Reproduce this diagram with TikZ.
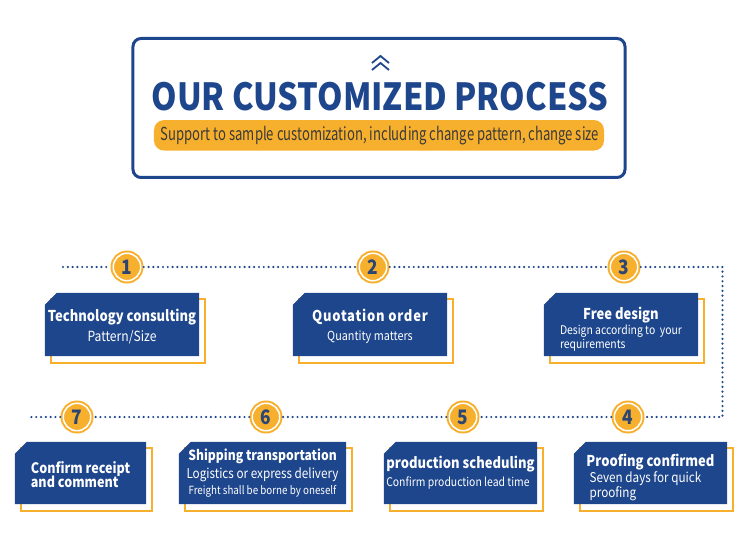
\documentclass[tikz,border=0pt]{standalone}
\usepackage{fontspec}
\setmainfont[FakeStretch=0.87]{Noto Sans CJK SC}
\newfontfamily\narrowfont[FakeStretch=0.73]{Noto Sans CJK SC}
\usetikzlibrary{positioning,backgrounds}

\definecolor{procblue}{HTML}{1E468C}
\definecolor{procorange}{HTML}{F7B02E}
\definecolor{numtext}{HTML}{2C4573}
\definecolor{pilltext}{HTML}{3A3A3A}

\tikzset{
  stepnum/.style={circle, fill=procorange, draw=procorange, double=white, double distance=1.5bp,
    line width=2bp, minimum size=27.5bp, inner sep=0pt, outer sep=3bp, text=numtext,
    font=\fontsize{20}{20}\selectfont\bfseries},
  card/.style={rectangle, inner sep=0pt, text=white, align=center},
  cardframe/.style={draw=procorange, line width=2bp},
  dotline/.style={procblue, line width=2.4bp, line cap=round, dash pattern=on 0bp off 4.8bp},
}

\begin{document}
\begin{tikzpicture}[x=1bp, y=-1bp]
\useasboundingbox (0,0) rectangle (750,549);

% header
\node[draw=procblue, line width=3bp, rounded corners=8bp, minimum width=492bp, minimum height=139bp, inner sep=0pt] (header) at (379,108) {};
\draw[procblue, line width=1.8bp] (372,63) -- (380.5,56) -- (389,63);
\draw[procblue, line width=1.8bp] (372,70) -- (380.5,63) -- (389,70);
\node[text=procblue, font=\fontsize{37.5}{37.5}\selectfont\bfseries, inner sep=0pt] (title) at (380,97) {OUR CUSTOMIZED PROCESS};
\node[fill=procorange, rounded corners=10bp, minimum width=450bp, minimum height=30.5bp, inner sep=0pt] (pill) at (379,135.3) {};
\node[text=pilltext, font=\narrowfont\fontsize{18}{18}\selectfont, inner sep=0pt, anchor=base] (slogan) at (380,141) {Support to sample customization, including change pattern, change size};

% step numbers
\node[stepnum] (c1) at (127,267) {1};
\node[stepnum] (c2) at (373,267) {2};
\node[stepnum] (c3) at (624,267) {3};
\node[stepnum] (c4) at (628,417) {4};
\node[stepnum] (c5) at (463,417) {5};
\node[stepnum] (c6) at (266,417) {6};
\node[stepnum] (c7) at (77,417) {7};

\coordinate (s0) at (63,267);
\coordinate (t1) at (722.5,267);
\coordinate (t2) at (722.5,417);
\coordinate (s8) at (29,417);

\draw[dotline] (s0) -- (c1);
\draw[dotline] (c1) -- (c2);
\draw[dotline] (c2) -- (c3);
\draw[dotline] (c3) -- (t1) -- (t2) -- (c4);
\draw[dotline] (c4) -- (c5);
\draw[dotline] (c5) -- (c6);
\draw[dotline] (c6) -- (c7);
\draw[dotline] (c7) -- (s8);

% step cards (the rules push the text a little below the middle)
\node[card, minimum width=154bp, minimum height=63bp] (b1) at (122,324.5)
  {\fontsize{15}{15}\selectfont\bfseries\rule{0pt}{16.5bp}Technology consulting\\[5bp]
   \fontsize{14}{14}\selectfont Pattern/Size};
\node[card, minimum width=154bp, minimum height=63bp] (b2) at (370,324.5)
  {\addfontfeature{LetterSpace=5}\fontsize{15}{15}\selectfont\bfseries\rule{0pt}{16.5bp}Quotation order\\[5bp]
   \fontsize{12.5}{12.5}\selectfont Quantity matters};
\node[card, minimum width=154bp, minimum height=63bp] (b3) at (621,324.5)
  {\fontsize{15}{15}\selectfont\bfseries\rule{0pt}{23.5bp}Free design\\[1bp]
   \fontsize{12}{14}\selectfont\begin{tabular}{@{}l@{}}Design according to\ \ your\\requirements\end{tabular}};
\node[card, minimum width=153bp, minimum height=62bp] (b4) at (650.5,473)
  {\fontsize{15}{15}\selectfont\bfseries\rule{0pt}{22bp}Proofing confirmed\\[0bp]
   \fontsize{13.5}{13}\selectfont\begin{tabular}{@{}l@{\hspace{10bp}}}Seven days for quick\\proofing\end{tabular}};
\node[card, minimum width=153bp, minimum height=62bp, align=left] (b5) at (460.5,473)
  {\fontsize{15}{15}\selectfont\bfseries production scheduling\\[4bp]
   \fontsize{12}{12}\selectfont Confirm production lead time};
\node[card, minimum width=167bp, minimum height=62bp] (b6) at (262.5,473)
  {\fontsize{14}{14}\selectfont\bfseries Shipping transportation\\[3bp]
   \fontsize{13.5}{13.5}\selectfont Logistics or express delivery\\[3bp]
   \fontsize{11.3}{11.3}\selectfont Freight shall be borne by oneself};
\node[card, minimum width=131bp, minimum height=62bp, align=left] (b7) at (80.5,473)
  {\fontsize{14.5}{14.5}\selectfont\bfseries\rule{0pt}{15bp}Confirm receipt\\[-1bp]
   \fontsize{14.5}{14.5}\selectfont\bfseries and comment};

\begin{scope}[on background layer]
\foreach \b in {b1,b2,b3,b4,b5,b6,b7}{
  \draw[cardframe] ([xshift=6bp,yshift=-6.5bp]\b.north west) rectangle ([xshift=6bp,yshift=-6.5bp]\b.south east);
  \fill[procblue] ([yshift=-12bp]\b.north west) -- ([xshift=12bp]\b.north west) -- (\b.north east)
    -- (\b.south east) -- (\b.south west) -- cycle;
}
\end{scope}
\end{tikzpicture}
\end{document}
